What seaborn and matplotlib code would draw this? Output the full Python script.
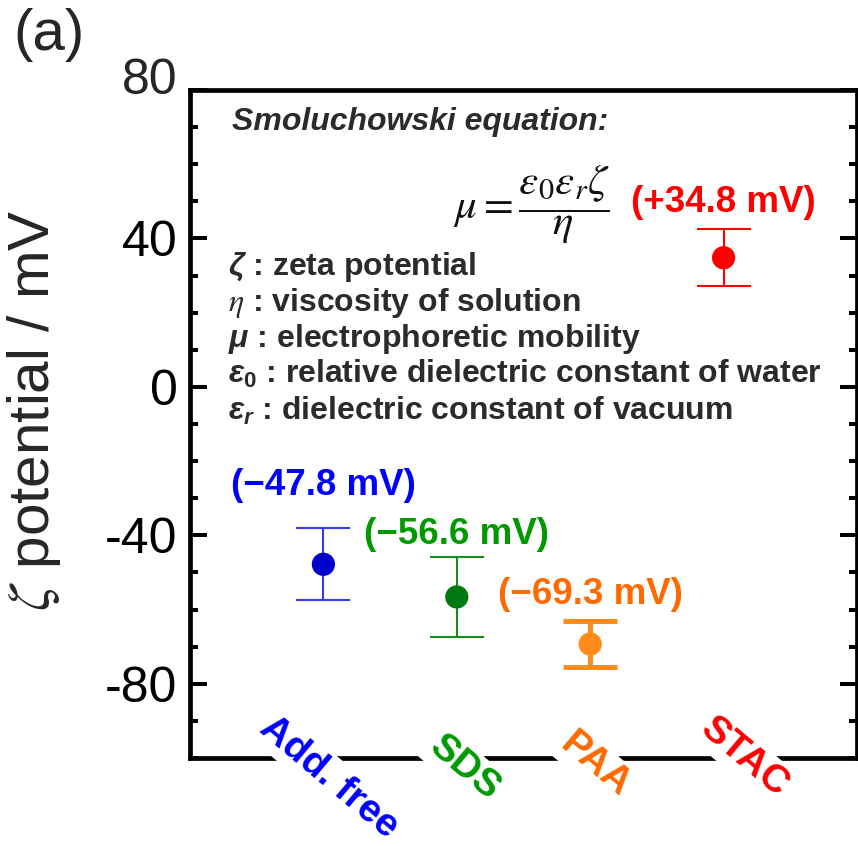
import numpy as np
import pandas as pd
import matplotlib
matplotlib.use("Agg")
import matplotlib.pyplot as plt
import matplotlib.transforms as mtransforms
import seaborn as sns
from matplotlib.ticker import MultipleLocator

# ---------------- data ----------------
categories = ["Add. free", "SDS", "PAA", "STAC"]
zeta_mV = [-47.8, -56.6, -69.3, 34.8]
zeta_err = [9.7, 10.7, 6.2, 7.7]
value_labels = ["(\u221247.8 mV)", "(\u221256.6 mV)", "(\u221269.3 mV)", "(+34.8 mV)"]
y_tick_values = [-80, -40, 0, 40, 80]
y_tick_labels = ["-80", "-40", "0", "40", "80"]

# ---------------- styles ----------------
marker_colors = ["#0000cc", "#007a10", "#ff8c1a", "#ff0000"]
bar_colors = ["#3a3ae0", "#1a8a1a", "#ff8c1a", "#ff0000"]
text_colors = ["#0000ff", "#009900", "#ff6a00", "#ff0000"]
bar_lw = [1.5, 1.5, 3.6, 1.5]
label_gap = [11.6, 6.2, 7.2, 7.2]           # gap above error bar top (data units)
cat_dx = [0.045, 0.06, 0.04, 0.16]          # category label offsets (data x)
cat_y = [-0.029, -0.015, -0.010, 0.001]     # category label centre (axes fraction)

sns.set_theme(style="ticks")
plt.rcParams["font.family"] = ["Liberation Sans", "DejaVu Sans"]
plt.rcParams["axes.unicode_minus"] = False
plt.rcParams["mathtext.fontset"] = "custom"
plt.rcParams["mathtext.it"] = "Liberation Sans:italic:bold"
plt.rcParams["mathtext.rm"] = "Liberation Sans:bold"
plt.rcParams["mathtext.bf"] = "Liberation Sans:bold"

W, H = 858, 846
fig = plt.figure(figsize=(W / 100, H / 100), dpi=100)
ax = fig.add_axes([190 / W, 1 - 758 / H, (857 - 190) / W, (758 - 90) / H])

df = pd.DataFrame({
    "category": categories,
    "x": np.arange(len(categories)),
    "zeta": zeta_mV,
    "err": zeta_err,
})

for i, row in df.iterrows():
    ax.errorbar(row["x"], row["zeta"], yerr=row["err"], fmt="none",
                ecolor=bar_colors[i], elinewidth=bar_lw[i], capsize=19.4,
                capthick=bar_lw[i], zorder=2)

sns.scatterplot(data=df, x="x", y="zeta", hue="category", palette=marker_colors,
                s=280, edgecolor="none", legend=False, ax=ax, zorder=3)

# value annotations
for i, row in df.iterrows():
    ax.text(row["x"], row["zeta"] + row["err"] + label_gap[i], value_labels[i],
            color=text_colors[i], fontsize=26.5, fontweight="bold",
            ha="center", va="center")

# category labels (rotated, white background hides the spine)
for i, row in df.iterrows():
    ax.text(row["x"] + cat_dx[i], cat_y[i], row["category"],
            transform=ax.get_xaxis_transform(), rotation=-40,
            rotation_mode="anchor", ha="center", va="center",
            color=text_colors[i], fontsize=28, fontweight="bold",
            bbox=dict(boxstyle="square,pad=0.08", fc="white", ec="none"),
            zorder=5, clip_on=False)

# axes formatting
ax.set_xlim(-1, 4)
ax.set_ylim(-100, 80)
ax.set_xticks([])
ax.set_yticks(y_tick_values)
# top label sits a little above its tick in the reference -> drawn separately
ax.set_yticklabels(y_tick_labels[:-1] + [""])
ax.yaxis.set_minor_locator(MultipleLocator(10))
ax.tick_params(axis="y", which="both", direction="in", left=True, right=True,
               width=2.9, labelsize=36, pad=9, colors="black")
ax.tick_params(axis="y", which="major", length=12)
ax.tick_params(axis="y", which="minor", length=6)
top_tr = ax.get_yaxis_transform() + mtransforms.ScaledTranslation(-9 / 72, 10 / 72, fig.dpi_scale_trans)
ax.text(0, y_tick_values[-1], y_tick_labels[-1], transform=top_tr, fontsize=36,
        ha="right", va="center_baseline", clip_on=False)
for s in ax.spines.values():
    s.set_linewidth(3.4)
    s.set_color("black")
    s.set_visible(True)
ax.set_xlabel("")
ax.set_ylabel(r"$\zeta$ potential / mV", fontsize=42, math_fontfamily="stix")
ax.yaxis.set_label_coords(-0.19, 0.521)

# equation block
dark = "#2b2b2b"
ax.text(0.063, 0.940, "Smoluchowski equation:", transform=ax.transAxes,
        fontsize=23, fontweight="bold", fontstyle="italic", color=dark,
        ha="left", va="baseline")
ax.text(0.394, 0.829, r"$\mu = \dfrac{\varepsilon_0\varepsilon_r\zeta}{\eta}$",
        transform=ax.transAxes, fontsize=31, math_fontfamily="stix",
        color="#111111", ha="left", va="center")

defs = [
    (r"$\zeta$ : zeta potential", "custom"),
    (r"$\eta$ : viscosity of solution", "stix"),
    (r"$\mu$ : electrophoretic mobility", "custom"),
    (r"$\varepsilon_0$ : relative dielectric constant of water", "custom"),
    (r"$\varepsilon_r$ : dielectric constant of vacuum", "custom"),
]
baselines = [275, 311, 347, 383, 420]
for (txt, mf), b in zip(defs, baselines):
    ax.text(0.057, (758 - b) / 668, txt, transform=ax.transAxes, fontsize=23,
            fontweight="bold", color=dark, ha="left", va="baseline",
            math_fontfamily=mf)

fig.text(13 / W, 1 - 8 / H, "(a)", fontsize=42, ha="left", va="top")

fig.savefig("out.png", dpi=100)
